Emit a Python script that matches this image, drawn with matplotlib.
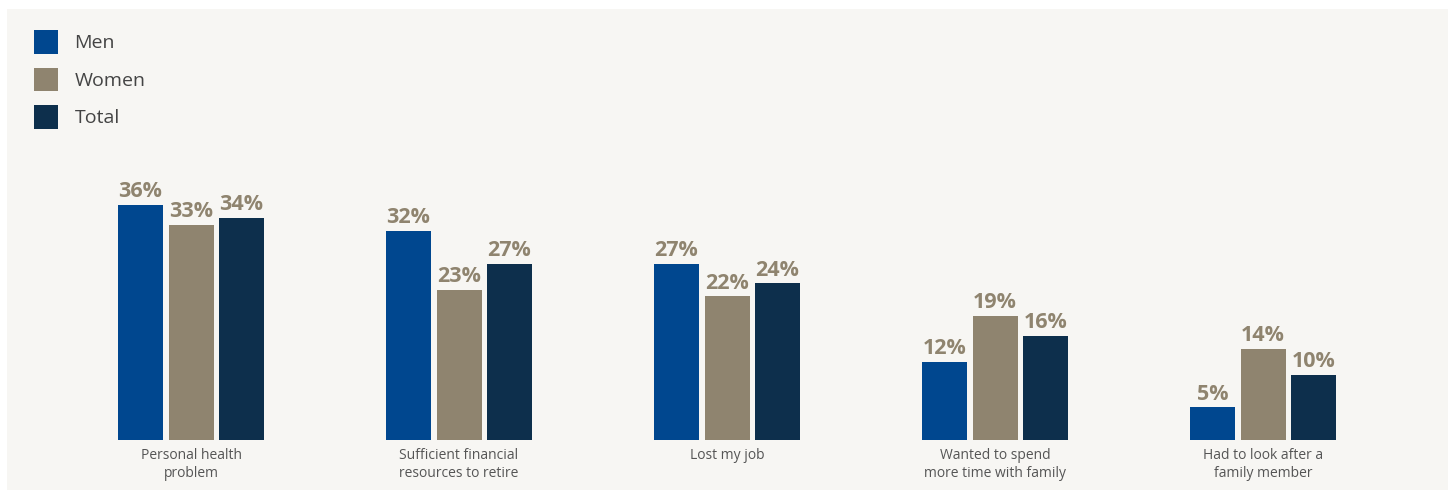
import numpy as np
import matplotlib.pyplot as plt
from matplotlib.patches import Rectangle

categories = ["Personal health\nproblem",
              "Sufficient financial\nresources to retire",
              "Lost my job",
              "Wanted to spend\nmore time with family",
              "Had to look after a\nfamily member"]
men = [36, 32, 27, 12, 5]
women = [33, 23, 22, 19, 14]
total = [34, 27, 24, 16, 10]
series_names = ["Men", "Women", "Total"]

colors = ["#00478f", "#8f846f", "#0d2f4c"]
label_color = "#8f846f"
panel_color = "#f7f6f3"

plt.rcParams['font.family'] = ['Open Sans', 'DejaVu Sans']

W, H = 1448, 490
fig = plt.figure(figsize=(W / 100, H / 100), dpi=100)
fig.patch.set_facecolor("white")

# light panel behind everything
fig.patches.append(Rectangle((7 / W, 0), 1 - 7 / W, 1 - 9 / H,
                             transform=fig.transFigure, facecolor=panel_color,
                             edgecolor="none", zorder=0))

ax = fig.add_axes([0, 50 / H, 1, 1 - 50 / H])
ax.set_facecolor("none")
ax.set_zorder(2)

x = np.arange(len(categories))
bw = 45 / 268
step = 50.5 / 268
handles = []
for k, (vals, name) in enumerate(zip([men, women, total], series_names)):
    bars = ax.bar(x + (k - 1) * step, vals, width=bw, color=colors[k], label=name)
    handles.append(bars)
    for b, v in zip(bars, vals):
        ax.annotate(f"{v}%", (b.get_x() + b.get_width() / 2, v),
                    xytext=(0, 2), textcoords="offset points",
                    ha="center", va="bottom", fontsize=15.5, fontweight="bold",
                    color=label_color)

ax.set_xlim(-191 / 268, (W - 191) / 268)
ax.set_ylim(0, 440 / 6.53)
for s in ax.spines.values():
    s.set_visible(False)
ax.set_yticks([])
ax.set_xticks(x)
ax.set_xticklabels(categories, fontsize=10, color="#555555", linespacing=1.25)
ax.tick_params(axis="x", length=0, pad=6)

leg = fig.legend(handles=handles, labels=series_names, loc="upper left",
                 bbox_to_anchor=(34 / W, 1 - 30 / H), frameon=False,
                 fontsize=14, handlelength=1.23, handleheight=1.49,
                 labelspacing=0.72, handletextpad=0.85, borderpad=0,
                 borderaxespad=0)
leg.set_zorder(3)
for t in leg.get_texts():
    t.set_color("#444444")

fig.savefig("out.png", dpi=100, facecolor=fig.get_facecolor())
